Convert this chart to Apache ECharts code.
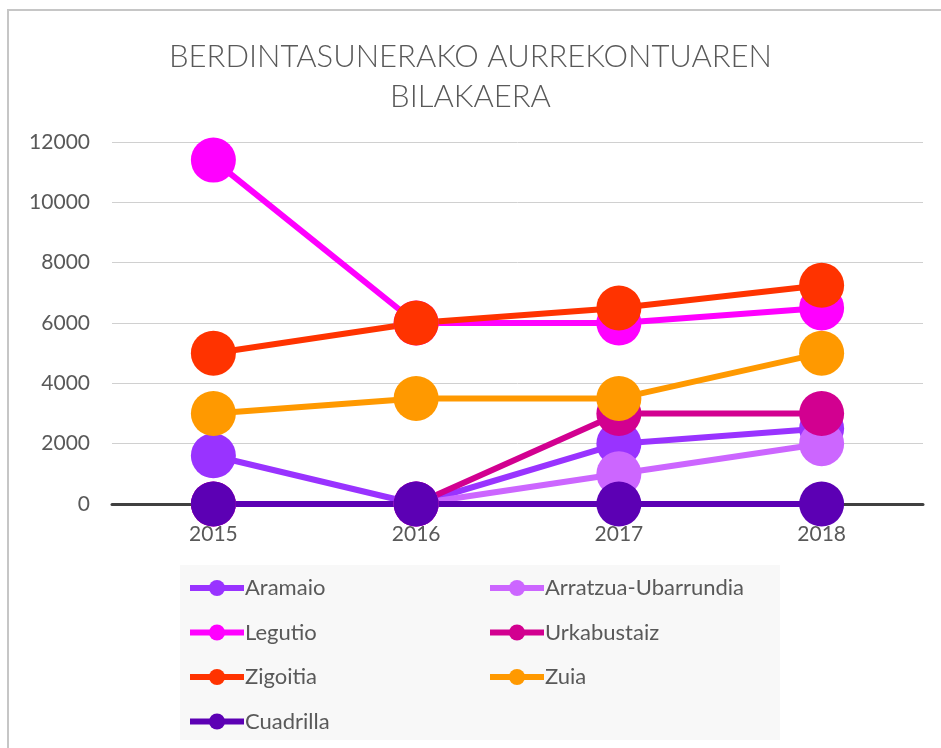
<!DOCTYPE html>
<html>
<head>
<meta charset="utf-8">
<script src="https://cdn.jsdelivr.net/npm/echarts@6/dist/echarts.min.js"></script>
<style>
  html, body { margin: 0; padding: 0; background: #fff; }
  #main { width: 941px; height: 748px; }
</style>
</head>
<body>
<div id="main"></div>
<script>
// datuak
var years = ['2015', '2016', '2017', '2018'];
var aramaio = [1600, 0, 2000, 2500];
var arratzua = [0, 0, 1000, 2000];
var legutio = [11400, 6000, 6000, 6500];
var urkabustaiz = [0, 0, 3000, 3000];
var zigoitia = [5000, 6000, 6500, 7250];
var zuia = [3000, 3500, 3500, 5000];
var cuadrilla = [0, 0, 0, 0];
var yTicks = [0, 2000, 4000, 6000, 8000, 10000, 12000];

var font = 'Lato';
var textColor = '#595959';

function mkSeries(name, data, color) {
    return {
        name: name,
        type: 'line',
        data: data,
        symbol: 'circle',
        symbolSize: 45,
        itemStyle: { color: color },
        lineStyle: { color: color, width: 6 },
        emphasis: { disabled: true },
        animation: false
    };
}

var legendCommon = {
    orient: 'vertical',
    top: 577,
    height: 200,
    padding: 0,
    itemWidth: 54,
    itemHeight: 20,
    itemGap: 22.5,
    lineStyle: { width: 6 },
    textStyle: { fontFamily: font, fontSize: 22, lineHeight: 20, color: textColor, padding: [0, 0, 0, -4] }
};

var chart = echarts.init(document.getElementById('main'));
chart.setOption({
    backgroundColor: '#fff',
    graphic: [
        {
            type: 'rect',
            shape: { x: 8, y: 10, width: 1000, height: 800 },
            style: { fill: 'none', stroke: '#c6c6c6', lineWidth: 2 },
            z: -1
        },
        {
            type: 'rect',
            shape: { x: 180, y: 565, width: 600, height: 175 },
            style: { fill: '#f8f8f8' },
            z: -1
        }
    ],
    title: {
        text: 'BERDINTASUNERAKO AURREKONTUAREN\nBILAKAERA',
        left: 'center',
        top: 32,
        textStyle: {
            fontFamily: font,
            fontWeight: 300,
            fontSize: 31,
            lineHeight: 40,
            color: textColor
        }
    },
    grid: { left: 112, right: 18, top: 142, bottom: 244, containLabel: false },
    xAxis: {
        type: 'category',
        data: years,
        axisTick: { show: false },
        axisLine: { lineStyle: { color: '#404040', width: 3 } },
        axisLabel: { fontFamily: font, fontSize: 21, color: textColor, margin: 20 }
    },
    yAxis: {
        type: 'value',
        min: yTicks[0],
        max: yTicks[yTicks.length - 1],
        interval: 2000,
        axisLine: { show: false },
        axisTick: { show: false },
        splitLine: { lineStyle: { color: '#d0d0d0', width: 1 } },
        axisLabel: {
            fontFamily: font, fontSize: 21, color: textColor, margin: 22,
            formatter: function (v) { return String(v); }
        }
    },
    legend: [
        Object.assign({}, legendCommon, {
            left: 187,
            data: ['Aramaio', 'Legutio', 'Zigoitia', 'Cuadrilla']
        }),
        Object.assign({}, legendCommon, {
            left: 487,
            data: ['Arratzua-Ubarrundia', 'Urkabustaiz', 'Zuia']
        })
    ],
    series: [
        mkSeries('Aramaio', aramaio, '#9933ff'),
        mkSeries('Arratzua-Ubarrundia', arratzua, '#cc66ff'),
        mkSeries('Legutio', legutio, '#ff00ff'),
        mkSeries('Urkabustaiz', urkabustaiz, '#d20090'),
        mkSeries('Zigoitia', zigoitia, '#ff3300'),
        mkSeries('Zuia', zuia, '#ff9900'),
        mkSeries('Cuadrilla', cuadrilla, '#5c00b4')
    ]
});
</script>
</body>
</html>
